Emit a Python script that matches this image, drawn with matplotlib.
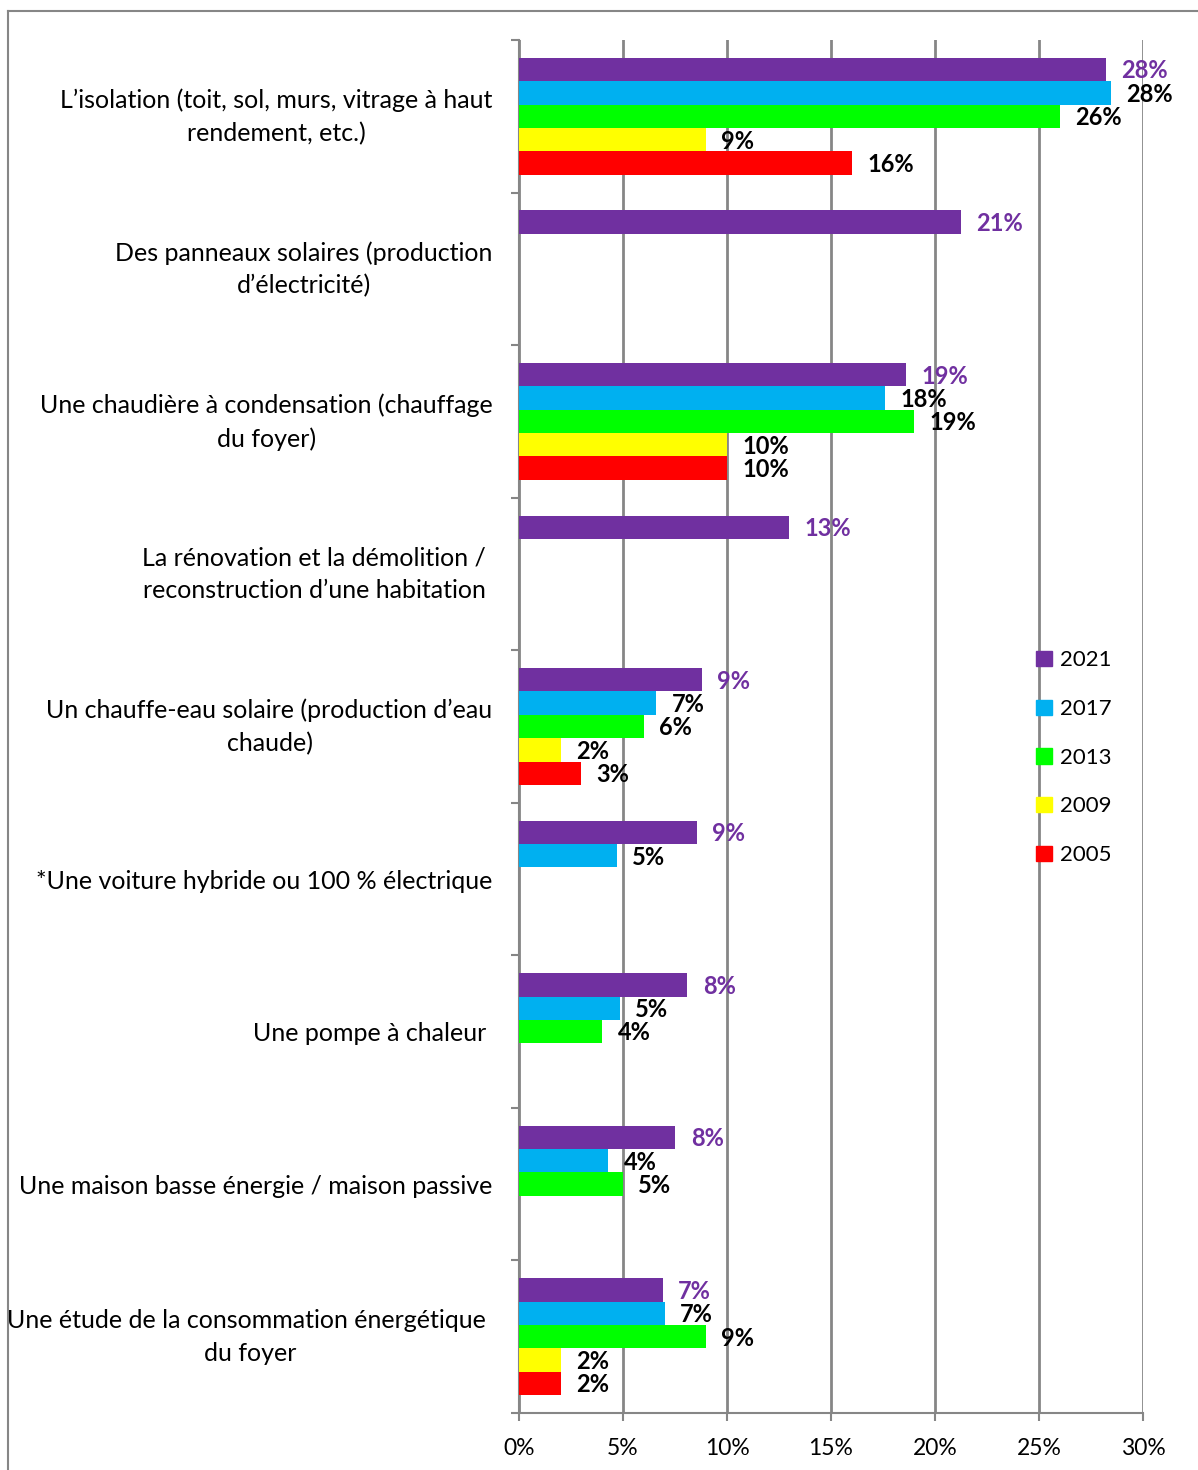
import matplotlib
matplotlib.use("Agg")
import matplotlib.pyplot as plt
import matplotlib.transforms as mtransforms
from matplotlib.patches import Patch
from matplotlib.lines import Line2D
import numpy as np

plt.rcParams['font.family'] = ['Lato', 'DejaVu Sans']

# categories, top to bottom
categories = [
    "L\u2019isolation (toit, sol, murs, vitrage à haut\nrendement, etc.)",
    "Des panneaux solaires (production\nd\u2019électricité)",
    "Une chaudière à condensation (chauffage\ndu foyer)",
    "La rénovation et la démolition / \nreconstruction d\u2019une habitation ",
    "Un chauffe-eau solaire (production d\u2019eau\nchaude)",
    "*Une voiture hybride ou 100 % électrique",
    "Une pompe à chaleur ",
    "Une maison basse énergie / maison passive",
    "Une étude de la consommation énergétique \ndu foyer",
]

years = ["2021", "2017", "2013", "2009", "2005"]
nan = np.nan
v2021 = [28.2, 21.25, 18.6, 13.0, 8.8, 8.55, 8.1, 7.52, 6.9]
v2017 = [28.45, nan, 17.6, nan, 6.6, 4.7, 4.85, 4.3, 7.0]
v2013 = [26.0, nan, 19.0, nan, 6.0, nan, 4.0, 5.0, 9.0]
v2009 = [9.0, nan, 10.0, nan, 2.0, nan, nan, nan, 2.0]
v2005 = [16.0, nan, 10.0, nan, 3.0, nan, nan, nan, 2.0]
series = [v2021, v2017, v2013, v2009, v2005]
colors = ["#7030A0", "#00B0F0", "#00FF00", "#FFFF00", "#FF0000"]
label_colors = ["#7030A0", "black", "black", "black", "black"]

fig = plt.figure(figsize=(11.98, 14.70), dpi=100)
ax = fig.add_axes([519/1198, 1 - 1413/1470, 624/1198, 1373/1470])

grey = "#868686"
n = len(categories)
y = np.arange(n)
h = 0.153

for i, (vals, c, lc) in enumerate(zip(series, colors, label_colors)):
    vals = np.array(vals, dtype=float)
    pos = y + (i - 2) * h
    ok = ~np.isnan(vals)
    ax.barh(pos[ok], vals[ok], height=h, color=c, zorder=3)
    for p, v in zip(pos[ok], vals[ok]):
        ax.annotate(f"{round(v)}%", (v, p), xytext=(11, -1), textcoords="offset points",
                    va="center", ha="left", fontsize=17, fontweight="bold", color=lc, zorder=4)

ax.set_xlim(0, 30)
ax.set_ylim(n - 0.5, -0.5)
ax.set_xticks(np.arange(0, 31, 5))
ax.set_xticklabels([f"{t}%" for t in range(0, 31, 5)], fontsize=16.5)
ax.xaxis.grid(True, color=grey, linewidth=2, zorder=0)
ax.tick_params(axis="x", length=6, width=1.5, color=grey, pad=12)

ax.set_yticks(y)
ax.set_yticklabels(categories, fontsize=18, multialignment="center", linespacing=1.5)
ax.set_yticks(np.arange(-0.5, n, 1), minor=True)
ax.tick_params(axis="y", which="major", length=0, pad=19)
ax.tick_params(axis="y", which="minor", length=6, width=1.5, color=grey)

# two-line labels sit a little higher
shift = mtransforms.ScaledTranslation(0, 4.5 / 72, fig.dpi_scale_trans)
for lab in ax.get_yticklabels():
    if "\n" in lab.get_text():
        lab.set_transform(lab.get_transform() + shift)

for s in ["top", "right"]:
    ax.spines[s].set_visible(False)
for s in ["left", "bottom"]:
    ax.spines[s].set_color(grey)
    ax.spines[s].set_linewidth(1.5)

handles = [Patch(color=c, label=yr) for c, yr in zip(colors, years)]
ax.legend(handles=handles, loc="upper left", bbox_to_anchor=(0.797, 0.57),
          frameon=False, fontsize=16, handlelength=0.7, handleheight=0.7,
          handletextpad=0.35, labelspacing=1.29)

# outer frame
fx = 8 / 1198
fy = 1 - 11 / 1470
fig.add_artist(Line2D([fx, fx], [0, fy], color=grey, linewidth=1.5))
fig.add_artist(Line2D([fx, 1], [fy, fy], color=grey, linewidth=1.5))

fig.savefig("out.png", dpi=100)
